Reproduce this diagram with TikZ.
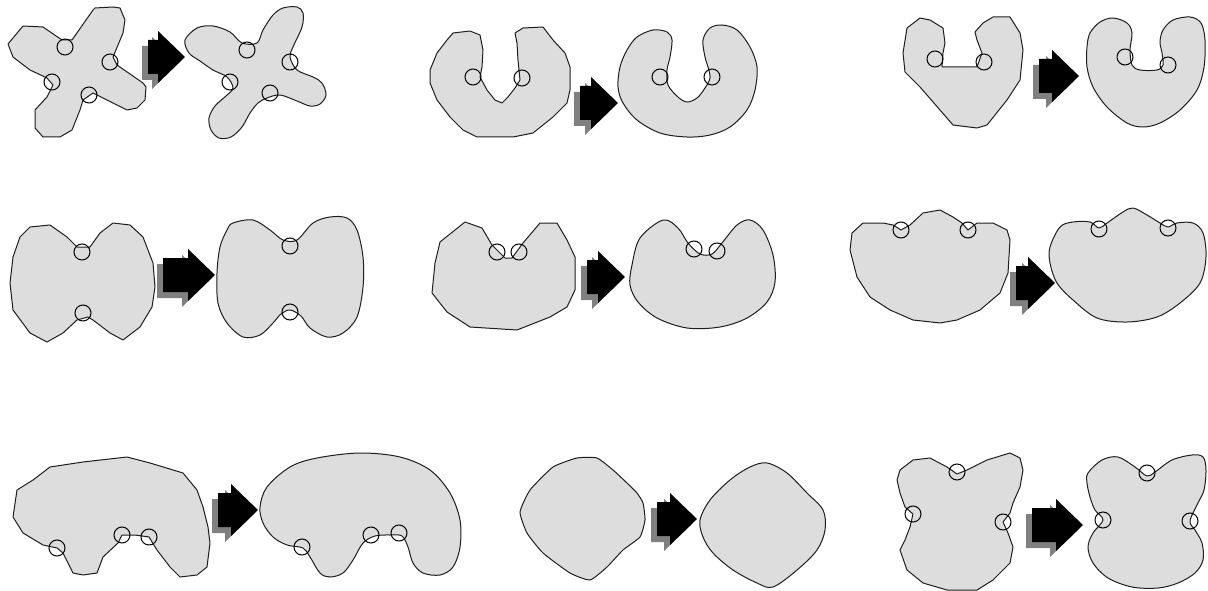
\documentclass[tikz,border=0pt]{standalone}
\usepackage{tikz}
\definecolor{shapefill}{RGB}{221,221,221}
\definecolor{shapeline}{RGB}{30,30,30}
\definecolor{shadowgray}{RGB}{128,128,128}
\tikzset{
  before/.style={fill=shapefill, draw=shapeline, line width=1pt, line join=round},
  after/.style={fill=shapefill, draw=shapeline, line width=1pt, line join=round},
  circ/.style={draw=black, line width=1pt},
  arrowshadow/.style={fill=shadowgray},
  arrowbody/.style={fill=black}
}
\newcommand\blockarr[3]{%
  \fill[arrowshadow, shift={(#1-6,#2+6)}] (-#3,-17) -- (-27,-17) -- (-27,-26) -- (0,0) -- (-27,26) -- (-27,17) -- (-#3,17) -- cycle;
  \fill[arrowbody, shift={(#1,#2)}] (-#3,-17) -- (-27,-17) -- (-27,-26) -- (0,0) -- (-27,26) -- (-27,17) -- (-#3,17) -- cycle;
}
\begin{document}
\begin{tikzpicture}[x=1pt,y=-1pt]
\useasboundingbox (0,0) rectangle (1208,591);
\fill[white] (0,0) rectangle (1208,591);

% ---------- Panel 1 ----------
\draw[before] (8,44) -- (23,26) -- (43,27) -- (62,40) -- (72,40) -- (93,10) -- (95,8) -- (113,7) -- (120,8) -- (125,20) -- (123,33) -- (113,57) -- (117,65) -- (143,83) -- (146,87) -- (145,100) -- (137,108) -- (127,110) -- (93,93) -- (83,100) -- (80,110) -- (72,130) -- (60,137) -- (43,137) -- (35,128) -- (35,110) -- (47,97) -- (53,85) -- (47,78) -- (30,70) -- (13,57) -- cycle;
\foreach \p in {(65,47),(110,62),(89,95),(52,82)} \draw[circ] \p circle (8);
\blockarr{185}{57}{37}
\draw[after] plot[smooth cycle, tension=0.55] coordinates {(185,40) (197,28) (213,26) (230,32) (242,43) (257,43) (263,30) (273,15) (283,8) (297,7) (303,13) (302,27) (293,47) (290,57) (297,70) (313,77) (322,83) (326,95) (320,104) (310,106) (297,101) (280,95) (267,98) (258,103) (250,113) (242,127) (231,137) (219,138) (211,130) (209,118) (215,106) (226,96) (233,88) (227,77) (213,70) (200,61) (189,53)};
\foreach \p in {(247,50),(290,62),(270,93),(230,82)} \draw[circ] \p circle (8);

% ---------- Panel 2 ----------
\draw[before] (453,33) -- (470,31) -- (480,35) -- (483,50) -- (482,67) -- (480,77) -- (487,90) -- (495,100) -- (502,103) -- (508,97) -- (515,88) -- (520,80) -- (518,60) -- (517,43) -- (515,33) -- (523,28) -- (543,27) -- (553,40) -- (565,53) -- (570,67) -- (570,90) -- (567,103) -- (553,117) -- (533,133) -- (513,137) -- (477,137) -- (463,130) -- (450,117) -- (437,100) -- (430,83) -- (430,70) -- (437,53) -- (447,40) -- cycle;
\foreach \p in {(473,77),(522,78)} \draw[circ] \p circle (8);
\blockarr{618}{103}{38}
\draw[after] plot[smooth cycle, tension=0.55] coordinates {(637,37) (653,30) (667,32) (672,40) (670,57) (667,70) (668,85) (678,97) (687,102) (697,98) (705,88) (710,78) (708,67) (705,57) (703,40) (710,28) (722,25) (737,30) (750,47) (757,67) (755,90) (747,110) (730,127) (710,135) (687,137) (660,133) (637,120) (623,103) (618,87) (620,67) (627,50)};
\foreach \p in {(660,77),(712,77)} \draw[circ] \p circle (8);

% ---------- Panel 3 ----------
\draw[before] (907,28) -- (920,18) -- (930,20) -- (943,28) -- (945,43) -- (943,53) -- (942,67) -- (977,67) -- (982,53) -- (977,40) -- (975,32) -- (983,23) -- (993,17) -- (1010,17) -- (1020,33) -- (1023,50) -- (1020,80) -- (1007,100) -- (987,125) -- (977,128) -- (953,125) -- (940,110) -- (920,87) -- (905,72) -- (903,53) -- cycle;
\foreach \p in {(935,59),(984,62)} \draw[circ] \p circle (8);
\blockarr{1079}{76}{40}
\draw[after] plot[smooth cycle, tension=0.55] coordinates {(1090,33) (1100,22) (1113,18) (1127,23) (1132,33) (1130,50) (1132,65) (1140,70) (1157,70) (1163,65) (1162,53) (1160,42) (1163,30) (1173,20) (1190,17) (1201,23) (1205,40) (1204,67) (1197,90) (1180,110) (1160,123) (1143,127) (1127,123) (1107,107) (1093,87) (1087,67) (1087,47)};
\foreach \p in {(1125,57),(1168,65)} \draw[circ] \p circle (8);

% ---------- Panel 4 ----------
\draw[before] (30,227) -- (50,225) -- (67,237) -- (77,247) -- (90,247) -- (100,233) -- (113,223) -- (130,225) -- (143,237) -- (153,263) -- (155,287) -- (152,307) -- (140,327) -- (123,340) -- (110,333) -- (93,320) -- (88,317) -- (77,320) -- (63,333) -- (47,342) -- (30,333) -- (13,310) -- (10,283) -- (13,257) -- (20,237) -- cycle;
\foreach \p in {(82,252),(83,313)} \draw[circ] \p circle (8);
\blockarr{215}{275}{52}
\draw[after] plot[smooth cycle, tension=0.55] coordinates {(233,223) (253,220) (270,230) (283,240) (297,240) (313,223) (330,217) (347,218) (357,230) (363,257) (363,287) (357,317) (343,333) (327,337) (310,328) (301,316) (290,310) (281,314) (273,323) (260,335) (243,337) (227,323) (218,303) (217,273) (220,247) (227,230)};
\foreach \p in {(290,246),(290,312)} \draw[circ] \p circle (8);

% ---------- Panel 5 ----------
\draw[before] (440,242) -- (465,222) -- (482,228) -- (492,245) -- (505,258) -- (512,258) -- (523,243) -- (540,223) -- (557,223) -- (567,240) -- (575,257) -- (575,290) -- (567,307) -- (550,317) -- (517,330) -- (470,327) -- (447,312) -- (432,293) -- (435,263) -- cycle;
\foreach \p in {(497,252),(519,252)} \draw[circ] \p circle (8);
\blockarr{625}{277}{38}
\draw[after] plot[smooth cycle, tension=0.55] coordinates {(632,265) (640,238) (663,220) (678,228) (688,243) (700,254) (712,254) (722,243) (737,225) (750,220) (763,230) (773,255) (775,282) (767,302) (747,318) (720,327) (687,328) (657,318) (638,302) (630,285)};
\foreach \p in {(694,249),(717,251)} \draw[circ] \p circle (8);

% ---------- Panel 6 ----------
\draw[before] (852,233) -- (863,223) -- (883,223) -- (893,225) -- (901,230) -- (910,225) -- (923,213) -- (940,210) -- (953,217) -- (962,223) -- (968,230) -- (977,223) -- (993,223) -- (1007,230) -- (1010,240) -- (1008,273) -- (1000,293) -- (980,310) -- (957,320) -- (940,323) -- (913,320) -- (890,310) -- (870,297) -- (857,277) -- (850,250) -- cycle;
\foreach \p in {(901,230),(968,230)} \draw[circ] \p circle (8);
\blockarr{1055}{283}{39}
\draw[after] plot[smooth cycle, tension=0.55] coordinates {(1050,247) (1060,227) (1073,222) (1090,222) (1099,228) (1107,223) (1123,212) (1133,208) (1147,215) (1160,223) (1168,227) (1177,223) (1193,223) (1203,233) (1206,257) (1200,283) (1180,303) (1157,317) (1127,322) (1097,318) (1073,300) (1057,283) (1050,263)};
\foreach \p in {(1099,229),(1168,228)} \draw[circ] \p circle (8);

% ---------- Panel 7 ----------
\draw[before] (13,517) -- (17,490) -- (33,480) -- (50,467) -- (83,462) -- (127,457) -- (150,463) -- (183,473) -- (197,490) -- (203,507) -- (208,527) -- (210,543) -- (207,567) -- (197,575) -- (180,577) -- (170,567) -- (157,550) -- (149,537) -- (135,535) -- (122,535) -- (118,543) -- (103,557) -- (97,573) -- (83,575) -- (73,573) -- (63,553) -- (57,548) -- (43,545) -- (23,533) -- cycle;
\foreach \p in {(57,548),(122,535),(149,537)} \draw[circ] \p circle (8);
\blockarr{258}{510}{40}
\draw[after] plot[smooth cycle, tension=0.55] coordinates {(260,507) (267,487) (290,467) (317,458) (360,453) (400,457) (430,470) (450,493) (460,520) (460,547) (453,567) (440,575) (423,573) (413,563) (408,547) (402,536) (390,535) (375,536) (363,543) (353,560) (343,573) (330,577) (320,573) (310,557) (303,548) (287,545) (273,537) (263,523)};
\foreach \p in {(302,547),(371,535),(399,533)} \draw[circ] \p circle (8);

% ---------- Panel 8 ----------
\draw[before] plot[smooth cycle, tension=0.3] coordinates {(520,512) (530,490) (553,467) (577,458) (597,458) (613,470) (627,483) (637,493) (643,503) (645,520) (640,537) (623,550) (607,567) (590,580) (570,573) (543,553) (527,533)};
\blockarr{697}{519}{40}
\draw[after] plot[smooth cycle, tension=0.55] coordinates {(700,520) (710,500) (730,480) (750,467) (767,463) (787,473) (807,493) (823,510) (825,530) (817,550) (797,570) (773,587) (757,583) (733,570) (713,553) (703,537)};

% ---------- Panel 9 ----------
\draw[before] (900,470) -- (913,460) -- (930,458) -- (947,467) -- (957,474) -- (967,470) -- (987,460) -- (1010,453) -- (1020,458) -- (1023,470) -- (1020,487) -- (1013,503) -- (1010,513) -- (1003,522) -- (1008,533) -- (1013,547) -- (1010,563) -- (993,580) -- (977,590) -- (947,590) -- (923,583) -- (907,570) -- (900,550) -- (905,540) -- (910,527) -- (913,514) -- (905,507) -- (900,493) -- (897,480) -- cycle;
\foreach \p in {(957,472),(1003,522),(913,514)} \draw[circ] \p circle (8);
\blockarr{1083}{525}{51}
\draw[after] plot[smooth cycle, tension=0.55] coordinates {(1088,473) (1102,460) (1118,457) (1135,467) (1147,476) (1155,472) (1172,460) (1192,455) (1203,457) (1206,470) (1204,490) (1198,503) (1190,521) (1195,530) (1202,543) (1203,560) (1195,573) (1178,583) (1158,588) (1132,587) (1108,578) (1093,563) (1088,547) (1093,533) (1103,520) (1095,510) (1090,497) (1087,483)};
\foreach \p in {(1147,473),(1190,521),(1103,520)} \draw[circ] \p circle (8);
\end{tikzpicture}
\end{document}
